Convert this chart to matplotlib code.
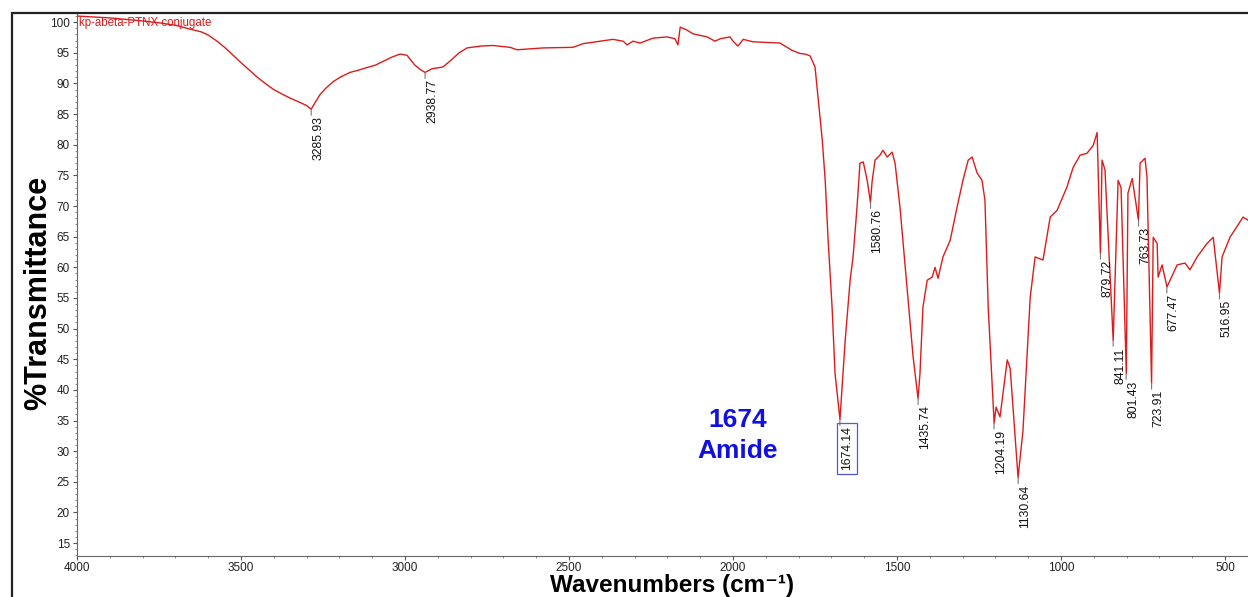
import matplotlib
matplotlib.use("Agg")
import matplotlib.pyplot as plt
from matplotlib.patches import Rectangle
from matplotlib.ticker import MultipleLocator

plt.rcParams['font.family'] = ['Liberation Sans', 'DejaVu Sans']

# spectrum (wavenumber, %T)
wavenumber = [4000, 3900, 3800, 3750, 3700, 3650, 3620, 3600, 3573, 3550, 3524, 3500,
              3473, 3450, 3421, 3400, 3372, 3350, 3320, 3300, 3286, 3275, 3259, 3240,
              3219, 3195, 3168, 3140, 3116, 3090, 3067, 3040, 3015, 2994, 2970, 2954,
              2939, 2918, 2884, 2860, 2835, 2811, 2770, 2732, 2680, 2658, 2579, 2488,
              2457, 2366, 2335, 2323, 2305, 2283, 2244, 2201, 2177, 2168, 2161, 2140,
              2122, 2079, 2055, 2039, 2009, 2000, 1985, 1969, 1939, 1896, 1857, 1820,
              1796, 1780, 1765, 1750, 1741, 1728, 1719, 1710, 1698, 1689, 1674, 1668,
              1658, 1643, 1634, 1622, 1613, 1603, 1591, 1581, 1576, 1567, 1552, 1543,
              1530, 1515, 1506, 1491, 1469, 1451, 1436, 1430, 1421, 1408, 1393, 1384,
              1375, 1360, 1338, 1317, 1299, 1283, 1271, 1256, 1241, 1232, 1222, 1204,
              1198, 1186, 1164, 1155, 1131, 1116, 1094, 1079, 1055, 1033, 1012, 982,
              963, 942, 921, 902, 890, 880, 875, 866, 841, 826, 817, 801,
              796, 783, 764, 759, 744, 738, 724, 719, 707, 704, 692, 677,
              646, 622, 607, 585, 555, 536, 517, 509, 485, 445, 430]
transmittance = [101.0, 100.7, 100.2, 99.9, 99.5, 98.8, 98.4, 97.9, 96.9, 95.9, 94.6, 93.4,
                 92.1, 91.0, 89.8, 89.0, 88.2, 87.6, 86.9, 86.4, 85.8, 86.8, 88.2, 89.3,
                 90.3, 91.1, 91.8, 92.2, 92.6, 93.0, 93.6, 94.3, 94.8, 94.6, 93.0, 92.3,
                 91.8, 92.4, 92.7, 93.8, 95.0, 95.8, 96.1, 96.2, 95.9, 95.5, 95.8, 95.9,
                 96.5, 97.2, 96.9, 96.3, 96.9, 96.6, 97.4, 97.6, 97.3, 96.3, 99.2, 98.7,
                 98.1, 97.6, 96.9, 97.3, 97.6, 96.9, 96.1, 97.2, 96.8, 96.7, 96.6, 95.4,
                 94.9, 94.8, 94.5, 92.7, 87.8, 80.8, 74.2, 64.4, 53.5, 42.7, 35.2, 40.0,
                 48.1, 57.9, 61.7, 69.8, 77.0, 77.2, 74.2, 70.6, 74.0, 77.5, 78.3, 79.1,
                 78.0, 78.8, 77.0, 69.8, 56.3, 45.4, 38.6, 42.7, 53.5, 57.9, 58.4, 60.0,
                 58.2, 61.7, 64.4, 69.8, 74.2, 77.5, 78.0, 75.4, 74.2, 71.0, 53.5, 34.6,
                 37.2, 35.6, 44.9, 43.5, 25.7, 33.4, 55.1, 61.7, 61.2, 68.2, 69.3, 73.1,
                 76.3, 78.3, 78.6, 79.9, 82.0, 62.3, 77.5, 75.9, 48.1, 74.2, 73.0, 42.7,
                 72.1, 74.5, 67.7, 77.0, 77.8, 74.7, 41.1, 64.9, 63.9, 58.4, 60.4, 56.8,
                 60.4, 60.7, 59.6, 61.7, 63.9, 64.9, 55.8, 61.7, 64.9, 68.2, 67.7]

peak_wn = [3285.93, 2938.77, 1674.14, 1580.76, 1435.74, 1204.19, 1130.64,
           879.72, 841.11, 801.43, 763.73, 723.91, 677.47, 516.95]
peak_t = [85.8, 91.8, 35.2, 70.6, 38.6, 34.6, 25.7,
          62.3, 48.1, 42.7, 67.7, 41.1, 56.8, 55.8]
boxed_peak = 1674.14

fig = plt.figure(figsize=(12.48, 5.97), dpi=100)
ax = fig.add_axes([77/1248, 41/597, 1 - 77/1248, 543/597])

ax.plot(wavenumber, transmittance, color='#dc1c1c', lw=1.0)

for w, t in zip(peak_wn, peak_t):
    ax.annotate('', xy=(w, t), xytext=(0, -6), textcoords='offset pixels',
                arrowprops=dict(arrowstyle='-', color='#777777', lw=0.8,
                                shrinkA=0, shrinkB=0))
    box = None
    if w == boxed_peak:
        box = dict(boxstyle='square,pad=0.3', fc='none', ec='#5555ee', lw=0.9)
    ax.annotate(f'{w:.2f}', xy=(w, t), xytext=(1, -7), textcoords='offset pixels',
                rotation=90, ha='left', va='top', fontsize=8.8, color='#111111',
                bbox=box)

ax.text(1985, 32.6, '1674\nAmide', color='#1010e0', fontsize=19, fontweight='bold',
        ha='center', va='center', linespacing=1.35)

ax.text(3995, 99.8, 'kp-abeta-PTNX conjugate', color='#dc1c1c', fontsize=8.3,
        ha='left', va='center')

ax.set_xlim(4000, 430)
ax.set_ylim(12.9, 101.5)
ax.xaxis.set_major_locator(MultipleLocator(500))
ax.xaxis.set_minor_locator(MultipleLocator(100))
ax.yaxis.set_major_locator(MultipleLocator(5))
ax.yaxis.set_minor_locator(MultipleLocator(1))
ax.set_yticks(range(15, 101, 5))
ax.tick_params(which='major', length=3, width=0.8, color='#555555',
               labelsize=8.5, labelcolor='#222222', pad=2)
ax.tick_params(axis='x', which='major', pad=1)
ax.tick_params(which='minor', length=1.5, width=0.6, color='#777777')
for s in ['top', 'right']:
    ax.spines[s].set_visible(False)
for s in ['left', 'bottom']:
    ax.spines[s].set_color('#666666')
    ax.spines[s].set_linewidth(0.8)

# outer frame
fig.patches.append(Rectangle((12/1248, -0.1), 1.2, 0.1 + 584/597, transform=fig.transFigure,
                             fill=False, ec='#222222', lw=1.6, zorder=0))

fig.text(38/1248, 1 - 293/597, '%Transmittance', rotation=90, fontsize=22,
         fontweight='bold', ha='center', va='center',
         bbox=dict(fc='white', ec='none', pad=2))
fig.text(672/1248, 1 - 592/597, 'Wavenumbers (cm\u207b\u00b9)', fontsize=17.5,
         fontweight='bold', ha='center', va='baseline')

fig.savefig('out.png', dpi=100)
